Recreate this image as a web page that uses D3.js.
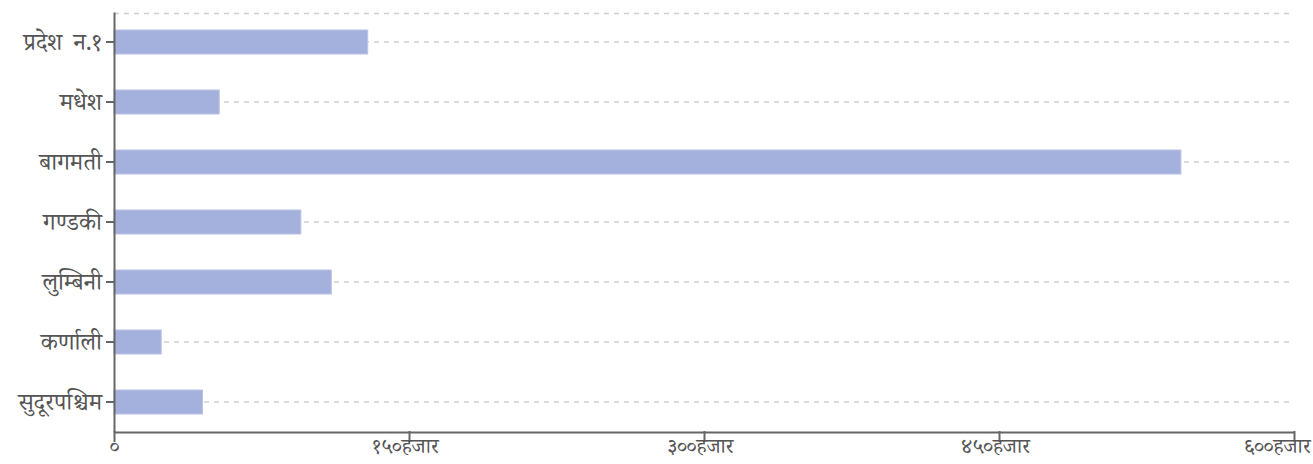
<!DOCTYPE html>
<html><head><meta charset="utf-8">
<script src="https://cdn.jsdelivr.net/npm/d3@7"></script>
<style>
body{margin:0;background:#fff;}
svg text{font-family:"Noto Serif Devanagari","Noto Sans Devanagari","Noto Sans",sans-serif;}
</style></head>
<body><svg id="c" width="1313" height="464"></svg>
<script>
const categories = ["प्रदेश न.१","मधेश","बागमती","गण्डकी","लुम्बिनी","कर्णाली","सुदूरपश्चिम"];
const values = [129, 53.5, 542.5, 95, 110.5, 24, 45]; // thousands
const tickValues = [0, 150, 300, 450, 600];
const tickLabels = ["०","१५०हजार","३००हजार","४५०हजार","६००हजार"];

const svg = d3.select("#c");
const m = {l:114, r:19, t:12, b:32};
const W = 1313, H = 464;
const x = d3.scaleLinear().domain([0,600]).range([m.l, W-m.r]);
const y = d3.scaleBand().domain(categories).range([m.t, H-m.b]).paddingInner(0.6).paddingOuter(0.3);

// gridlines
const grid = svg.append("g");
grid.selectAll("line.g").data(categories).join("line")
  .attr("x1", m.l).attr("x2", W-m.r)
  .attr("y1", d=>y(d)+y.bandwidth()/2).attr("y2", d=>y(d)+y.bandwidth()/2)
  .attr("stroke","#cfcfcf").attr("stroke-width",1.5).attr("stroke-dasharray","5,5");
grid.append("line").attr("x1", m.l).attr("x2", W-m.r).attr("y1", m.t+1.5).attr("y2", m.t+1.5)
  .attr("stroke","#cfcfcf").attr("stroke-width",1.5).attr("stroke-dasharray","5,5");

// bars
svg.append("g").selectAll("rect").data(values).join("rect")
  .attr("x", x(0)).attr("y", (d,i)=>y(categories[i]))
  .attr("width", d=>x(d)-x(0)).attr("height", y.bandwidth())
  .attr("fill","#a5b1dd").attr("stroke","#b9c3e6").attr("stroke-width",1);

// x axis
const xa = svg.append("g").attr("transform",`translate(0,${H-m.b})`)
  .call(d3.axisBottom(x).tickValues(tickValues).tickFormat((d,i)=>tickLabels[i]).tickSize(10).tickSizeOuter(0));
xa.select(".domain").attr("stroke","#666").attr("stroke-width",2);
xa.selectAll(".tick line").attr("stroke","#666").attr("stroke-width",2).attr("y1",-1);
xa.selectAll(".tick text").attr("fill","#555").attr("font-size",21).attr("dy",0).attr("y",20.5).attr("dx",-4);
xa.selectAll(".tick text").filter((d,i)=>i===0).attr("dx",0);
xa.selectAll(".tick text").filter((d,i)=>i===tickValues.length-1).attr("text-anchor","end").attr("dx",16);

// y axis
const ya = svg.append("g").attr("transform",`translate(${m.l},0)`)
  .call(d3.axisLeft(y).tickSize(8).tickSizeOuter(0));
ya.select(".domain").attr("stroke","#666").attr("stroke-width",2);
ya.selectAll(".tick line").attr("stroke","#666").attr("stroke-width",2);
ya.selectAll(".tick text").attr("fill","#555").attr("font-size",24).attr("x",-12).attr("word-spacing","5px");
</script></body></html>
